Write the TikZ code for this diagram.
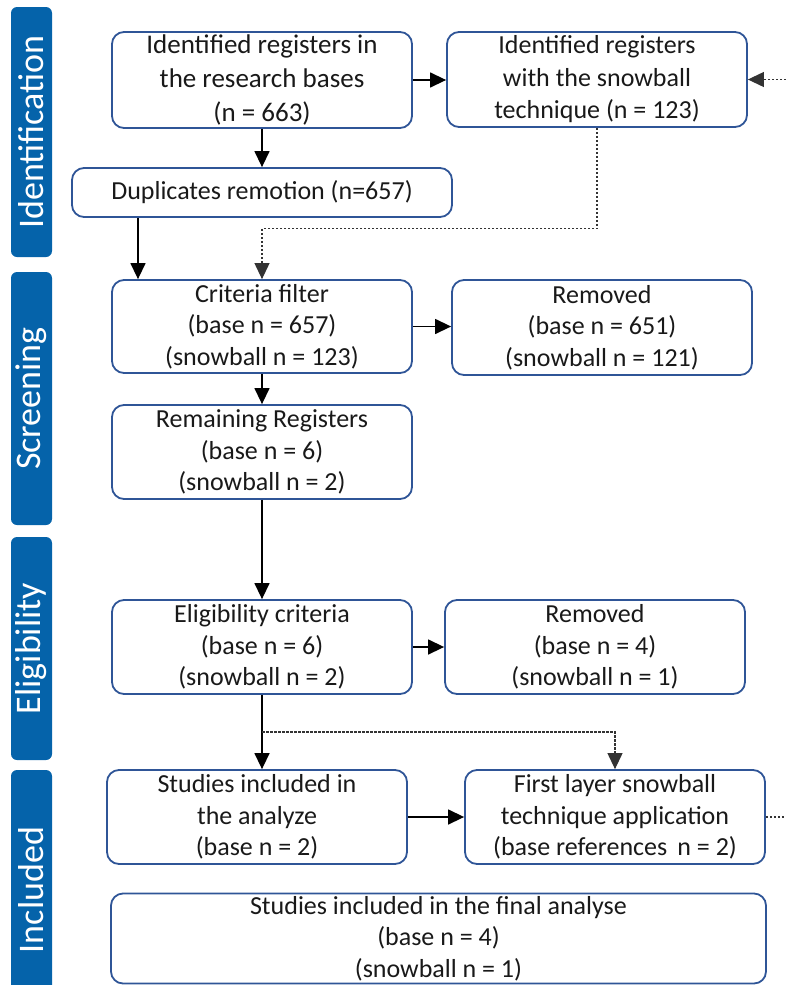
\documentclass[tikz,border=0pt]{standalone}
\usepackage{fontspec}
\setmainfont{Carlito}
\usetikzlibrary{arrows.meta}
\definecolor{barblue}{RGB}{5,99,170}
\definecolor{boxblue}{RGB}{47,85,151}
\definecolor{txt}{RGB}{25,25,25}
\begin{document}
\begin{tikzpicture}[x=1pt,y=-1pt,
  box/.style={draw=boxblue, line width=1.8pt, rounded corners=12pt, align=center,
    inner sep=0pt, text=txt, font=\fontsize{26}{31.5}\selectfont},
  bar/.style={fill=barblue, rounded corners=6pt, rotate=90, text=white,
    font=\fontsize{36}{36}\selectfont, inner sep=0pt, minimum height=41pt},
  arr/.style={line width=1.4pt, -{Triangle[length=16pt,width=15pt]}},
  dsh/.style={line width=1.1pt, dash pattern=on 2.5pt off 1.5pt, black!80},
  dsharr/.style={dsh, -{Triangle[length=16pt,width=15pt]}}]
\useasboundingbox (0,0) rectangle (786,985);
\clip (0,0) rectangle (786,985);
% phase bars
\node[bar, minimum width=250pt] (pI) at (31.5,132) {Identification};
\node[bar, minimum width=253pt] (pS) at (31.5,398.5) {Screening};
\node[bar, minimum width=223pt] (pE) at (31.5,648.5) {Eligibility};
\node[bar, minimum width=240pt] (pN) at (31.5,890) {Included};
% boxes
\node[box, minimum width=300pt, minimum height=96pt, font=\fontsize{27}{34}\selectfont] (b1) at (262,80)
  {Identified registers in\\the research bases\\(n = 663)};
\node[box, minimum width=300pt, minimum height=95pt, font=\fontsize{26}{32.5}\selectfont] (b2) at (597,79.5)
  {Identified registers\\with the snowball\\technique (n = 123)};
\node[box, minimum width=380pt, minimum height=49pt] (b3) at (262,192.5)
  {Duplicates remotion (n=657)};
\node[box, minimum width=300pt, minimum height=93pt] (b4) at (262,326.5)
  {Criteria filter\\(base n = 657)\\(snowball n = 123)};
\node[box, minimum width=300pt, minimum height=95pt] (b5) at (602,327.5)
  {Removed\\(base n = 651)\\(snowball n = 121)};
\node[box, minimum width=300pt, minimum height=94pt] (b6) at (262,452)
  {Remaining Registers\\(base n = 6)\\(snowball n = 2)};
\node[box, minimum width=300pt, minimum height=94pt] (b7) at (262,647)
  {Eligibility criteria\\(base n = 6)\\(snowball n = 2)};
\node[box, minimum width=300pt, minimum height=94pt] (b8) at (595,647)
  {Removed\\(base n = 4)\\(snowball n = 1)};
\node[box, minimum width=300pt, minimum height=94pt] (b9) at (257,817)
  {Studies included in\\the analyze\\(base n = 2)};
\node[box, minimum width=300pt, minimum height=94pt] (b10) at (615,817)
  {First layer snowball\\technique application\\(base references\, n = 2)};
\node[box, minimum width=655pt, minimum height=90pt] (b11) at (438.5,938.5)
  {Studies included in the final analyse\\(base n = 4)\\(snowball n = 1)};
% helper coordinates
\coordinate (rin) at (786,79.5);
\coordinate (c1) at (138,0);
\coordinate (j) at (262,732);
\coordinate (rout) at (786,817);
% connectors
\draw[arr] (b1.east) -- (b1.east -| b2.west);
\draw[dsharr] (rin) -- (b2.east);
\draw[arr] (b1.south) -- (b3.north);
\draw[arr] (b3.south -| c1) -- (b4.north -| c1);
\draw[dsharr] (b2.south) -- ++(0,101) -| (b4.north);
\draw[arr] (b4.east) -- (b4.east -| b5.west);
\draw[arr] (b4.south) -- (b6.north);
\draw[arr] (b6.south) -- (b7.north);
\draw[arr] (b7.east) -- (b8.west);
\draw[arr] (b7.south) -- (b7.south |- b9.north);
\draw[dsharr] (j) -| (b10.north);
\draw[arr] (b9.east) -- (b10.west);
\draw[dsh] (b10.east) -- (rout);
\end{tikzpicture}
\end{document}
